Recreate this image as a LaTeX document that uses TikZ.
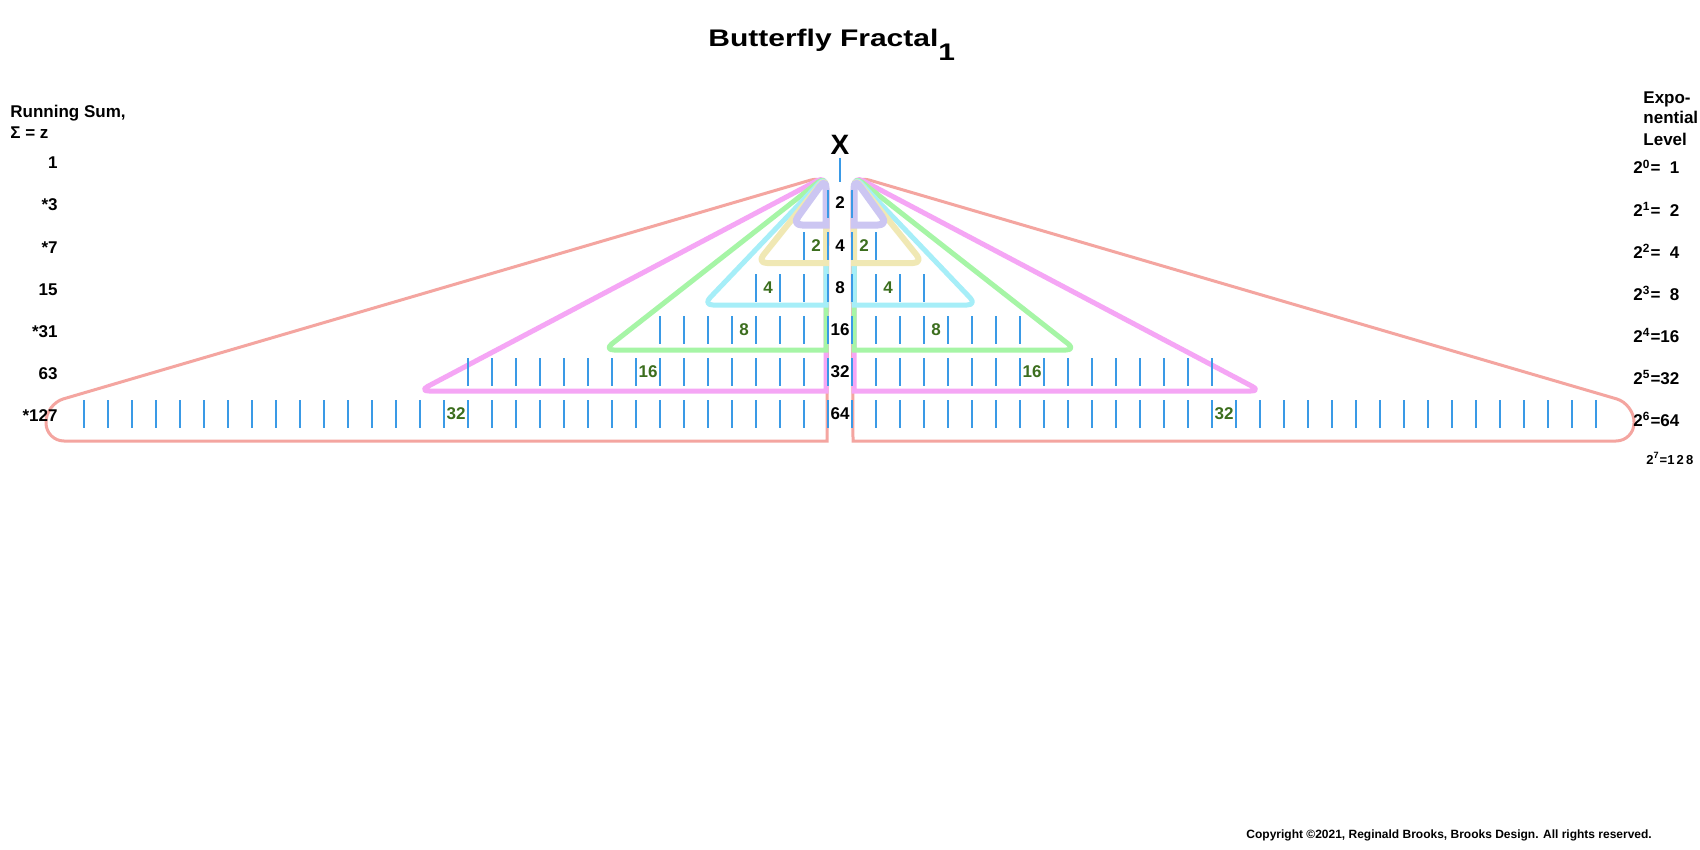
\documentclass[tikz,border=0pt]{standalone}
\usepackage{fontspec}
\setmainfont{Liberation Sans}
\newfontfamily\titlefam{Liberation Sans}[FakeStretch=1.25]
\usepackage{tikz}
\usepackage{xcolor}

\definecolor{salmonw}{HTML}{F4A5A0}
\definecolor{pinkw}{HTML}{F5A6F5}
\definecolor{greenw}{HTML}{A6F5A6}
\definecolor{cyanw}{HTML}{A6EEF8}
\definecolor{yelloww}{HTML}{F0E8B4}
\definecolor{lavw}{HTML}{CCC6F2}
\definecolor{tickblue}{HTML}{3A9AE6}
\definecolor{numgreen}{HTML}{3C6E1E}

\begin{document}
\begin{tikzpicture}[x=0.5pt,y=-0.5pt,
wing/.style={line width=2.5pt, rounded corners=5pt, line cap=rect, line join=round},
tk/.style={draw=tickblue, line width=1pt},
lbl/.style={font=\fontsize{8.5}{10}\selectfont\bfseries, inner sep=0pt},
cnt/.style={lbl, text=numgreen, anchor=base}]
	\fill[white] (0,0) rectangle (1700,850);
	\useasboundingbox (0,0) rectangle (1700,850);

	% wings, largest first so the small ones lie on top
	\foreach \s in {-1,1} {
		\draw[wing, draw=salmonw, line width=1.5pt, rounded corners=9pt] ({840+\s*13},441) -- ({840+\s*794},441) -- ({840+\s*794},404) -- ({840+\s*12},175) -- ({840+\s*13},441);
		\draw[wing, draw=pinkw] ({840+\s*14},391) -- ({840+\s*421},391) -- ({840+\s*14},176) -- ({840+\s*14},391);
		\draw[wing, draw=greenw] ({840+\s*14},350) -- ({840+\s*236},350) -- ({840+\s*14},176) -- ({840+\s*14},350);
		\draw[wing, draw=cyanw] ({840+\s*14},305) -- ({840+\s*137},305) -- ({840+\s*14},176) -- ({840+\s*14},305);
		\draw[wing, draw=yelloww, line width=3pt] ({840+\s*14},263) -- ({840+\s*83},263) -- ({840+\s*14},177) -- ({840+\s*14},263);
		\draw[wing, draw=lavw, line width=3.5pt] ({840+\s*14},225) -- ({840+\s*48},225) -- ({840+\s*14},178) -- ({840+\s*14},225);
	}

	% ticks, 2^(i-1) on each side of row i
	\draw[tk] (840,158) -- (840,182);
	\foreach \i in {1,...,6} {
		\pgfmathtruncatemacro\n{2^(\i-1)}
		\foreach \k in {1,...,\n} {
			\draw[tk] ({852-24*\k},{148+42*\i}) -- ({852-24*\k},{176+42*\i});
			\draw[tk] ({828+24*\k},{148+42*\i}) -- ({828+24*\k},{176+42*\i});
		}
	}

	% title and column heads
	\node[anchor=base west, inner sep=0pt, font=\titlefam\bfseries\fontsize{12}{14}\selectfont] (title) at (708,47) {Butterfly Fractal\raisebox{-7pt}{1}};
	\node[anchor=base, inner sep=0pt, font=\fontsize{14}{16}\selectfont\bfseries] (apex) at (840,155) {X};
	\node[lbl, anchor=base west] (sumhead) at (10,118) {Running Sum,};
	\node[lbl, anchor=base west] (sumeq) at ([yshift=-10.5pt]sumhead.base west) {Σ = z};
	\node[lbl, anchor=base west] (exphead) at (1643,104) {Expo-};
	\node[lbl, anchor=base west] (expmid) at ([yshift=-10pt]exphead.base west) {nential};
	\node[lbl, anchor=base west] (explow) at ([yshift=-11pt]expmid.base west) {Level};

	% running sums
	\foreach \v [count=\i from 0] in {1,*3,*7,15,*31,63,*127}
		\node[lbl, anchor=base east] (sum\i) at (58,{169+42*\i}) {\v};

	% exponential levels
	\foreach \e/\r [count=\i from 0] in {0/{\hphantom{1}1},1/{\hphantom{1}2},2/{\hphantom{1}4},3/{\hphantom{1}8},4/16,5/32,6/64}
		\node[lbl, anchor=base west] (exp\i) at (1633,{174+42*\i}) {2\textsuperscript{\e}=\r};
	\node[anchor=base west, inner sep=0pt, font=\fontsize{6.5}{8}\selectfont\bfseries] (exp7) at (1646,464) {2\textsuperscript{7}=1\,2\,8};

	% counts in the middle column
	\foreach \v [count=\i] in {2,4,8,16,32,64}
		\node[lbl, anchor=base] (mid\i) at (840,{167+42*\i}) {\v};

	% green counts on the wings
	\foreach \xa/\xb/\v [count=\i] in {816/864/2,768/888/4,744/936/8,648/1032/16,456/1224/32} {
		\node[cnt] (gl\i) at (\xa,{209+42*\i}) {\v};
		\node[cnt] (gr\i) at (\xb,{209+42*\i}) {\v};
	}

	\node[anchor=base west, inner sep=0pt, font=\fontsize{6}{7}\selectfont\bfseries] (copy) at (1246,838) {Copyright \textcopyright2021, Reginald Brooks, Brooks Design. All rights reserved.};
\end{tikzpicture}
\end{document}
